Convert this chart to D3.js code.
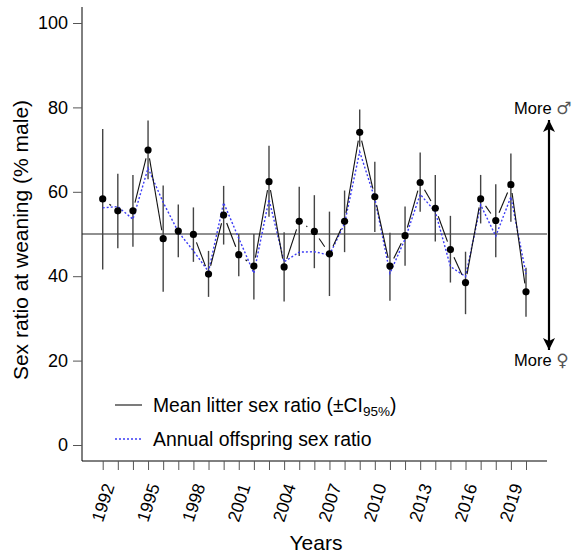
<!DOCTYPE html>
<html><head><meta charset="utf-8">
<script src="https://cdn.jsdelivr.net/npm/d3@7"></script>
<style>body{margin:0;background:#fff}svg{display:block;font-family:"Liberation Sans",Arial,sans-serif}</style>
</head><body><svg id="c" width="573" height="553"></svg>
<script>
const years = d3.range(1992, 2021);
const meanRatio = [58.3,55.5,55.5,69.9,48.9,50.7,49.9,40.5,54.5,45.1,42.4,62.4,42.2,53.0,50.6,45.3,53.0,74.1,58.8,42.4,49.6,62.2,56.1,46.3,38.5,58.3,53.2,61.7,36.3];
const ciLow = [41.6,46.6,47.0,63.0,36.3,44.5,43.4,35.1,47.5,40.0,34.5,54.1,34.0,44.8,41.9,35.3,45.7,70.7,50.5,34.2,42.5,55.3,48.2,38.5,31.0,52.5,44.5,52.9,30.4];
const ciHigh = [74.9,64.3,64.0,76.9,61.5,57.0,56.3,46.0,61.4,50.0,50.0,70.9,50.4,61.2,59.2,55.3,60.3,79.5,67.1,50.3,56.5,69.3,64.0,54.3,45.8,64.0,61.8,69.1,42.0];
const annualRatio = [56.2,56.5,53.5,65.6,57.5,50.5,46.0,41.1,57.4,49.0,40.7,58.2,43.4,45.7,45.8,45.0,52.5,69.5,58.4,40.7,48.8,59.4,55.3,42.3,39.9,56.9,49.5,58.8,40.5];
const yTicks = [0,20,40,60,80,100];
const xTickLabels = [1992,1995,1998,2001,2004,2007,2010,2013,2016,2019];

const svg = d3.select("#c");
const x = d3.scaleLinear().domain([1992,2020]).range([102.7,526]);
const y = d3.scaleLinear().domain([0,100]).range([445,23]);

// y axis
const yAx = svg.append("g").attr("transform","translate(82,0)")
  .call(d3.axisLeft(y).tickValues(yTicks).tickSize(9).tickPadding(5));
yAx.select(".domain").attr("d","M0,7V461");
yAx.selectAll("text").attr("font-size",18).attr("font-family",null).attr("fill","#000");
yAx.selectAll("line").attr("stroke","#555");

// x axis
const xAx = svg.append("g").attr("transform","translate(0,461)")
  .call(d3.axisBottom(x).tickValues(years).tickSize(9).tickFormat(""));
xAx.select(".domain").attr("d","M82,0H547");
xAx.selectAll("line").attr("stroke","#555");
svg.append("g").selectAll("text").data(xTickLabels).join("text")
  .attr("transform",d=>`translate(${x(d)+12},${486}) rotate(-72)`)
  .attr("text-anchor","end").attr("font-size",17.5).text(d=>d);

// axis titles
svg.append("text").attr("x",316).attr("y",550).attr("text-anchor","middle").attr("font-size",21).text("Years");
svg.append("text").attr("transform","translate(28,240) rotate(-90)").attr("text-anchor","middle").attr("font-size",21).text("Sex ratio at weaning (% male)");

// 50% reference line
svg.append("line").attr("x1",82).attr("x2",547).attr("y1",y(50)).attr("y2",y(50)).attr("stroke","#222").attr("stroke-width",1.2);

// CI bars
svg.append("g").selectAll("line").data(years).join("line")
  .attr("x1",d=>x(d)).attr("x2",d=>x(d))
  .attr("y1",(d,i)=>y(ciLow[i])).attr("y2",(d,i)=>y(ciHigh[i]))
  .attr("stroke","#444").attr("stroke-width",1.4);

// annual dotted line
svg.append("path").datum(years)
  .attr("d",d3.line().x(d=>x(d)).y((d,i)=>y(annualRatio[i])))
  .attr("fill","none").attr("stroke","#3b3bf5").attr("stroke-width",1.4).attr("stroke-dasharray","2,2");

// mean line with gaps (type "b")
const gap = 8.5;
const segs = [];
for (let i=0;i<years.length-1;i++){
  const x1=x(years[i]), y1=y(meanRatio[i]), x2=x(years[i+1]), y2=y(meanRatio[i+1]);
  const L=Math.hypot(x2-x1,y2-y1);
  if (L>2*gap){const ux=(x2-x1)/L, uy=(y2-y1)/L; segs.push([x1+ux*gap,y1+uy*gap,x2-ux*gap,y2-uy*gap]);}
}
svg.append("g").selectAll("line").data(segs).join("line")
  .attr("x1",d=>d[0]).attr("y1",d=>d[1]).attr("x2",d=>d[2]).attr("y2",d=>d[3])
  .attr("stroke","#111").attr("stroke-width",1.1);

// points
svg.append("g").selectAll("circle").data(years).join("circle")
  .attr("cx",d=>x(d)).attr("cy",(d,i)=>y(meanRatio[i])).attr("r",3.6).attr("fill","#000");

// legend
svg.append("line").attr("x1",115).attr("x2",142).attr("y1",405).attr("y2",405).attr("stroke","#111").attr("stroke-width",1.1);
svg.append("line").attr("x1",115).attr("x2",142).attr("y1",439).attr("y2",439).attr("stroke","#3b3bf5").attr("stroke-width",1.4).attr("stroke-dasharray","2,2");
const t1 = svg.append("text").attr("x",153).attr("y",412).attr("font-size",19.3);
t1.append("tspan").text("Mean litter sex ratio (±CI");
t1.append("tspan").attr("font-size",13.5).attr("dy",4).text("95%");
t1.append("tspan").attr("dy",-4).text(")");
svg.append("text").attr("x",153).attr("y",446).attr("font-size",19.4).text("Annual offspring sex ratio");

// arrow
const defs = svg.append("defs");
defs.append("marker").attr("id","ah").attr("viewBox","0 0 10 10").attr("refX",10).attr("refY",5)
  .attr("markerWidth",15).attr("markerHeight",12).attr("markerUnits","userSpaceOnUse").attr("orient","auto")
  .append("path").attr("d","M0,0L10,5L0,10L2.5,5Z").attr("fill","#000");
svg.append("line").attr("x1",549).attr("x2",549).attr("y1",y(50)).attr("y2",120).attr("stroke","#000").attr("stroke-width",2.2).attr("marker-end","url(#ah)");
svg.append("line").attr("x1",549).attr("x2",549).attr("y1",y(50)).attr("y2",350).attr("stroke","#000").attr("stroke-width",2.2).attr("marker-end","url(#ah)");
svg.append("text").attr("x",514).attr("y",114).attr("font-size",16.5).html("More <tspan fill='#555' font-size='17' font-family='DejaVu Sans'>♂</tspan>");
svg.append("text").attr("x",514).attr("y",366).attr("font-size",16.5).html("More <tspan fill='#555' font-size='17' font-family='DejaVu Sans'>♀</tspan>");
</script></body></html>
